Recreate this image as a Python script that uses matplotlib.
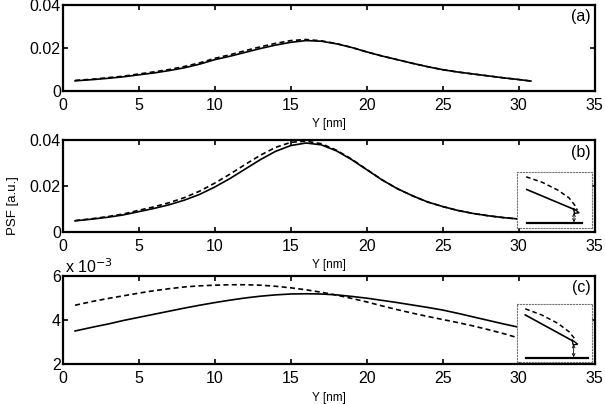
import numpy as np
import matplotlib
matplotlib.use('Agg')
import matplotlib.pyplot as plt
from matplotlib.patches import Polygon

plt.rcParams['font.family'] = ['Liberation Sans', 'DejaVu Sans']

# ---- data ----
# lateral position Y [nm], shared by all three panels
y_nm = [0.8, 2, 3, 4, 5, 6, 7, 8, 9, 10, 11, 12, 13, 14, 15, 16, 17, 18, 19, 20,
        21, 22, 23, 24, 25, 26, 27, 28, 29, 30, 30.8]

a_solid = [0.0047, 0.0053, 0.0059, 0.0066, 0.0075, 0.0084, 0.0095, 0.0108, 0.0125, 0.0146,
           0.0162, 0.0180, 0.0198, 0.0214, 0.0227, 0.0235, 0.0232, 0.0220, 0.0203, 0.0182,
           0.0163, 0.0146, 0.0129, 0.0113, 0.0099, 0.0088, 0.0079, 0.0070, 0.0061, 0.0053, 0.0046]
a_dash = [0.0049, 0.0055, 0.0062, 0.0069, 0.0079, 0.0089, 0.0100, 0.0114, 0.0131, 0.0152,
          0.0169, 0.0188, 0.0206, 0.0222, 0.0235, 0.0240, 0.0234, 0.0221, 0.0203, 0.0182,
          0.0163, 0.0146, 0.0129, 0.0113, 0.0099, 0.0088, 0.0079, 0.0070, 0.0061, 0.0053, 0.0046]

b_solid = [0.0048, 0.0056, 0.0064, 0.0074, 0.0088, 0.0102, 0.0118, 0.0138, 0.0163, 0.0195,
           0.0232, 0.0273, 0.0314, 0.0350, 0.0375, 0.0386, 0.0378, 0.0352, 0.0314, 0.0270,
           0.0226, 0.0188, 0.0157, 0.0130, 0.0110, 0.0093, 0.0080, 0.0070, 0.0062, 0.0056, 0.0052]
b_dash = [0.0049, 0.0058, 0.0067, 0.0078, 0.0094, 0.0109, 0.0127, 0.0149, 0.0177, 0.0212,
          0.0251, 0.0293, 0.0333, 0.0367, 0.0389, 0.0394, 0.0383, 0.0355, 0.0316, 0.0271,
          0.0226, 0.0188, 0.0157, 0.0130, 0.0110, 0.0093, 0.0080, 0.0070, 0.0062, 0.0056, 0.0052]

# panel (c) in units of 1e-3
c_solid = [3.50, 3.68, 3.82, 3.98, 4.12, 4.26, 4.40, 4.54, 4.67, 4.79, 4.90, 5.00, 5.08, 5.14,
           5.18, 5.19, 5.18, 5.14, 5.07, 4.99, 4.89, 4.79, 4.68, 4.57, 4.45, 4.30, 4.14, 3.98,
           3.82, 3.67, 3.56]
c_dash = [4.67, 4.85, 4.98, 5.10, 5.22, 5.33, 5.42, 5.50, 5.55, 5.58, 5.60, 5.60, 5.58, 5.53,
          5.46, 5.37, 5.26, 5.13, 4.98, 4.82, 4.64, 4.47, 4.31, 4.16, 4.02, 3.88, 3.73, 3.56,
          3.38, 3.18, 3.04]

x_ticks = [0, 5, 10, 15, 20, 25, 30, 35]
panel_tags = ['(a)', '(b)', '(c)']

# inset schematics (inset-local coordinates)
ins_b = dict(
    dash=([0.128, 0.34, 0.553, 0.70, 0.787, 0.81], [0.911, 0.815, 0.673, 0.536, 0.387, 0.315]),
    solid=([0.136, 0.774], [0.685, 0.327]),
    tip=(0.795, 0.30),
    floor=([0.136, 0.872], [0.089, 0.089]),
    arrow=(0.766, 0.27, 0.10),
)
ins_c = dict(
    dash=([0.11, 0.33, 0.548, 0.70, 0.79], [0.919, 0.814, 0.669, 0.523, 0.378]),
    solid=([0.11, 0.732], [0.814, 0.378]),
    tip=(0.775, 0.34),
    floor=([0.118, 0.95], [0.07, 0.07]),
    arrow=(0.76, 0.31, 0.087),
)

fig = plt.figure(figsize=(6.05, 4.04), dpi=100)

positions = [[0.104, 0.775, 0.879, 0.212],
             [0.104, 0.426, 0.879, 0.228],
             [0.104, 0.099, 0.879, 0.218]]

axes = [fig.add_axes(p) for p in positions]


def style_axis(ax):
    for s in ax.spines.values():
        s.set_linewidth(1.6)
    ax.tick_params(direction='in', top=True, right=True, length=3.5, width=1.2,
                   labelsize=11.5, pad=5)
    ax.tick_params(axis='y', pad=1.5)
    ax.set_xlim(0, 35)
    ax.set_xticks(x_ticks)
    ax.set_xlabel('Y [nm]', fontsize=8.5, labelpad=4)


def draw_inset(ax, rect, d):
    ins = ax.inset_axes(rect)
    ins.set_xlim(0, 1)
    ins.set_ylim(0, 1)
    ins.set_xticks([])
    ins.set_yticks([])
    for s in ins.spines.values():
        s.set_linestyle(':')
        s.set_color('0.45')
        s.set_linewidth(0.8)
    ins.set_facecolor('white')
    ins.plot(*d['dash'], 'k--', lw=1.1, dashes=(3, 2))
    ins.plot(*d['solid'], 'k-', lw=1.2)
    ins.plot(*d['floor'], 'k-', lw=1.6)
    tx, ty = d['tip']
    ins.add_patch(Polygon([[tx - 0.04, ty + 0.05], [tx + 0.04, ty - 0.03], [tx - 0.02, ty - 0.04]],
                          closed=True, fill=False, ec='k', lw=1.0))
    ax_x, y0, y1 = d['arrow']
    ins.annotate('', xy=(ax_x, y1), xytext=(ax_x, y0),
                 arrowprops=dict(arrowstyle='<->', lw=0.6, color='k',
                                 mutation_scale=5, shrinkA=0, shrinkB=0))
    return ins


# (a)
ax = axes[0]
ax.plot(y_nm, a_solid, 'k-', lw=1.2)
ax.plot(y_nm, a_dash, 'k--', lw=1.2, dashes=(3, 2))
ax.set_ylim(0, 0.04)
ax.set_yticks([0, 0.02, 0.04])
ax.set_yticklabels(['0', '0.02', '0.04'])
style_axis(ax)

# (b)
ax = axes[1]
ax.plot(y_nm, b_solid, 'k-', lw=1.2)
ax.plot(y_nm, b_dash, 'k--', lw=1.2, dashes=(3, 2))
ax.set_ylim(0, 0.04)
ax.set_yticks([0, 0.02, 0.04])
ax.set_yticklabels(['0', '0.02', '0.04'])
style_axis(ax)
draw_inset(ax, [0.853, 0.043, 0.141, 0.609], ins_b)

# (c)
ax = axes[2]
ax.plot(y_nm, c_solid, 'k-', lw=1.2)
ax.plot(y_nm, c_dash, 'k--', lw=1.2, dashes=(3, 2))
ax.set_ylim(2, 6)
ax.set_yticks([2, 4, 6])
ax.set_yticklabels(['2', '4', '6'])
style_axis(ax)
draw_inset(ax, [0.854, 0.02, 0.14, 0.66], ins_c)
ax.text(0.004, 0.995, r'x 10$^{-3}$', transform=ax.transAxes, fontsize=11.5,
        ha='left', va='bottom')

for ax, tag in zip(axes, panel_tags):
    ax.text(0.993, 0.865, tag, transform=ax.transAxes, fontsize=11.5,
            ha='right', va='center')

fig.text(0.022, 0.49, 'PSF [a.u.]', rotation=90, fontsize=9.5, ha='center', va='center')

fig.savefig('out.png', dpi=100)
